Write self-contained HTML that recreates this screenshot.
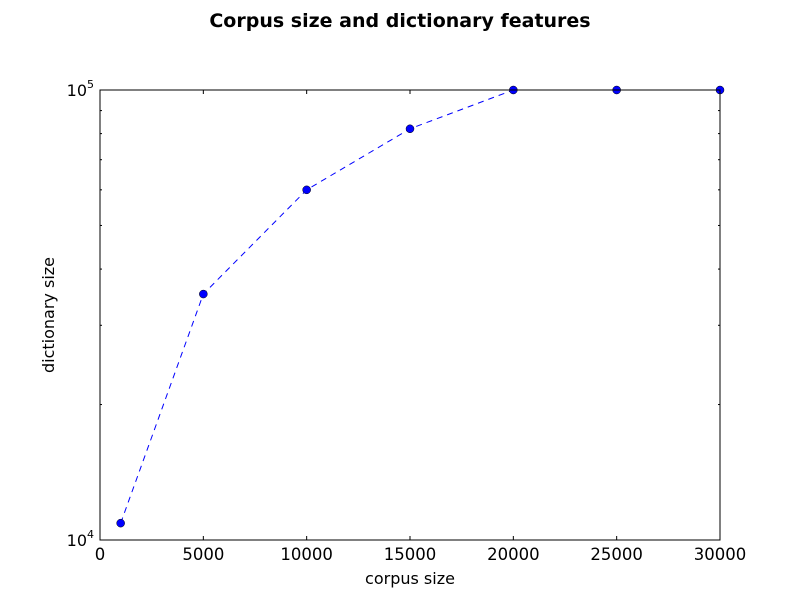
<!DOCTYPE html>
<html><head><meta charset="utf-8"><style>body{margin:0;background:#fff}svg{display:block;font-family:"DejaVu Sans","Liberation Sans",sans-serif}</style></head>
<body>
<svg width="800" height="600">
<text x="400" y="27" text-anchor="middle" font-size="19" font-weight="bold">Corpus size and dictionary features</text>
<g id="ticks"></g>
<polyline id="line" fill="none" stroke="#0000ff" stroke-width="1" stroke-dasharray="6,5"/>
<g id="pts"></g>
<rect x="100" y="90" width="620" height="450" fill="none" stroke="#000" stroke-width="1"/>
<text x="410" y="584" text-anchor="middle" font-size="16">corpus size</text>
<text transform="translate(54,315) rotate(-90)" text-anchor="middle" font-size="16">dictionary size</text>
</svg>
<script>
const corpusSizes=[1000,5000,10000,15000,20000,25000,30000];
const dictSizes=[10900,35200,60000,82000,100000,100000,100000];
const xTicks=[0,5000,10000,15000,20000,25000,30000];
const L=100,R=720,T=90,B=540;
const xs=v=>L+(v/30000)*(R-L);
const ys=v=>B-(Math.log10(v)-4)*(B-T);
const ns="http://www.w3.org/2000/svg";
const tg=document.getElementById('ticks');
function ln(x1,y1,x2,y2,name){const e=document.createElementNS(ns,'line');e.setAttribute('x1',x1);e.setAttribute('y1',y1);e.setAttribute('x2',x2);e.setAttribute('y2',y2);e.setAttribute('stroke','#000');


tg.appendChild(e);}
function tx(x,y,s,anchor,name,size){const e=document.createElementNS(ns,'text');e.setAttribute('x',x);e.setAttribute('y',y);e.setAttribute('text-anchor',anchor);e.setAttribute('font-size',size||16);e.textContent=s;


tg.appendChild(e);return e;}
xTicks.forEach(v=>{const x=xs(v);ln(x,B,x,B-4,'x-tick');ln(x,T,x,T+4,'x-tick-top');tx(x,560,String(v),'middle','x-tick-label',16.5);});
for(let m=2;m<=9;m++){const y=ys(m*1e4);ln(L,y,L+2,y,'y-minor-tick');ln(R,y,R-2,y,'y-minor-tick-right');}
[[1e4,'4'],[1e5,'5']].forEach(([v,p])=>{const y=ys(v);ln(L,y,L+4,y,'y-tick');ln(R,y,R-4,y,'y-tick-right');
const t=tx(L-6,y+6,'10','end','y-tick-label');const s=document.createElementNS(ns,'tspan');s.setAttribute('dy','-8');s.setAttribute('font-size','11');s.textContent=p;t.appendChild(s);});
document.getElementById('line').setAttribute('points',corpusSizes.map((c,i)=>xs(c)+','+ys(dictSizes[i])).join(' '));
const pg=document.getElementById('pts');
corpusSizes.forEach((c,i)=>{const e=document.createElementNS(ns,'circle');e.setAttribute('cx',xs(c));e.setAttribute('cy',ys(dictSizes[i]));e.setAttribute('r',4);e.setAttribute('fill','#0000ff');e.setAttribute('stroke','#000');e.setAttribute('stroke-width','0.5');


pg.appendChild(e);});
</script>
</body></html>
